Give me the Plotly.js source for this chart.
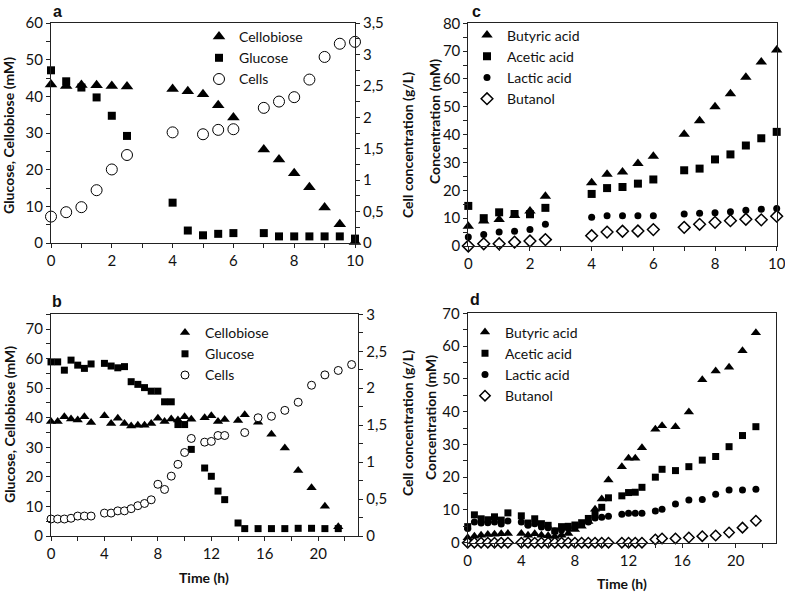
<!DOCTYPE html>
<html><head><meta charset="utf-8">
<script src="https://cdn.plot.ly/plotly-3.0.1.min.js"></script>
<style>html,body{margin:0;padding:0;background:#fff}#chart{width:785px;height:593px}</style>
</head><body><div id="chart"></div>
<script>
// ---------- Panel a ----------
const tA = [0,0.5,1,1.5,2,2.5,4,4.5,5,5.5,6,7,7.5,8,8.5,9,9.5,10];
const cellobioseA = [43.2,42.8,43.1,43.0,42.8,42.7,42.0,41.4,40.6,37.6,34.2,25.5,22.8,19.0,15.2,9.7,5.1,0.3];
const glucoseA = [47.1,44.1,42.4,39.7,34.7,29.2,11.0,3.4,2.1,2.5,2.7,2.7,1.8,1.8,1.8,1.8,1.8,1.2];
const cellsA = [0.42,0.49,0.57,0.84,1.17,1.40,1.76,null,1.73,1.80,1.81,2.15,2.25,2.32,2.60,2.96,3.17,3.20];
// ---------- Panel b ----------
const tB = [0,0.5,1,1.5,2,2.5,3,4,4.5,5,5.5,6,6.5,7,7.5,8,8.5,9,9.5,10,10.5,11.5,12,12.5,13,14,14.5,15.5,16.5,17.5,18.5,19.5,20.5,21.5,22.5];
const cellobioseB = [38.7,38.7,40.3,39.6,39.2,40.3,38.4,40.7,38.1,39.8,38.1,37.2,37.5,37.5,38.1,39.8,38.7,39.6,39.2,40.3,39.5,40.0,40.7,38.7,39.4,39.1,41.0,38.5,34.4,29.8,22.2,16.3,10.1,3.1,null];
const glucoseB = [58.9,58.9,56.1,59.5,57.8,56.7,58.2,58.4,57.5,56.9,57.3,52.2,51.3,50.2,49.0,49.0,45.4,45.4,37.7,37.7,29.3,23.0,20.2,15.2,12.3,4.4,2.5,2.5,2.5,2.5,2.6,2.6,2.5,2.5,null];
const cellsB = [0.23,0.23,0.23,0.24,0.27,0.27,0.27,0.31,0.31,0.34,0.34,0.37,0.41,0.44,0.49,0.70,0.63,0.81,0.97,1.13,1.32,1.27,1.28,1.36,1.36,null,1.40,1.60,1.62,1.70,1.81,2.04,2.18,2.24,2.32];
// ---------- Panel c ----------
const tC = [0,0.5,1,1.5,2,2.5,4,4.5,5,5.5,6,7,7.5,8,8.5,9,9.5,10];
const butyricC = [7.1,9.0,9.5,11.0,12.6,17.9,22.7,25.8,26.6,29.6,32.2,40.1,45.0,50.0,54.7,60.6,66.1,70.4];
const aceticC = [14.4,10.0,12.1,11.5,11.4,13.7,18.7,20.8,21.2,22.4,23.9,27.2,27.8,31.1,32.9,36.1,38.7,41.0];
const lacticC = [3.2,4.1,5.0,5.3,5.9,7.8,10.3,10.9,10.9,10.9,10.9,11.5,11.8,11.9,12.3,12.8,13.2,13.5];
const butanolC = [0,0.8,0.8,1.4,1.8,2.3,3.7,5.0,5.3,5.4,5.9,6.7,7.8,8.5,9.1,9.6,9.4,10.7];
// ---------- Panel d ----------
const tD = [0,0.5,1,1.5,2,2.5,3,4,4.5,5,5.5,6,6.5,7,7.5,8,8.5,9,9.5,10,10.5,11.5,12,12.5,13,14,14.5,15.5,16.5,17.5,18.5,19.5,20.5,21.5];
const butyricD = [1.5,2.0,2.3,2.5,2.6,2.7,2.8,2.8,2.3,2.7,2.3,2.1,1.9,2.3,2.8,4.0,5.0,6.5,10.2,13.3,19.1,23.2,25.8,25.8,29.0,34.6,35.7,35.4,39.9,49.7,52.4,53.5,58.6,64.1];
const aceticD = [4.9,8.5,7.3,7.0,7.9,6.9,9.1,8.2,6.0,7.3,5.8,5.3,3.6,4.9,5.0,5.4,6.1,7.4,8.6,10.8,13.7,14.3,15.3,15.4,16.9,20.0,22.4,22.0,23.2,25.2,26.3,29.3,32.7,35.4];
const lacticD = [4.3,6.3,6.0,6.1,6.3,5.7,6.6,6.3,5.3,5.8,4.8,4.6,3.6,3.9,4.3,4.8,5.6,6.3,7.5,7.8,8.1,8.7,9.0,9.0,9.0,9.7,10.2,11.8,13.0,13.2,14.8,16.1,16.1,16.3];
const butanolD = [0,0,0,0,0,0,0,0,0,0,0,0,0,0,0,0,0,0,0,0,0,0,0,0,0,1.0,1.3,1.3,1.6,2.0,2.2,3.1,4.6,6.7];

const W = 785, H = 593;
const FX = px => px / W;
const FY = py => 1 - py / H;
const FONT = 'Lato, "Open Sans", sans-serif';
const AX = '#222';

function tri(name, x, y, xa, ya, lg, size) {
  return {type:'scatter', mode:'markers', name, x, y, xaxis:xa, yaxis:ya, legend:lg, cliponaxis:false,
    marker:{symbol:'triangle-up', size:size||10, color:'#000'}};
}
function sq(name, x, y, xa, ya, lg, size) {
  return {type:'scatter', mode:'markers', name, x, y, xaxis:xa, yaxis:ya, legend:lg, cliponaxis:false,
    marker:{symbol:'square', size:size||8, color:'#000'}};
}
function circOpen(name, x, y, xa, ya, lg, size) {
  return {type:'scatter', mode:'markers', name, x, y, xaxis:xa, yaxis:ya, legend:lg, cliponaxis:false,
    marker:{symbol:'circle', size:size||10, color:'#fff', line:{color:'#000', width:1}}};
}
function circFill(name, x, y, xa, ya, lg, size) {
  return {type:'scatter', mode:'markers', name, x, y, xaxis:xa, yaxis:ya, legend:lg, cliponaxis:false,
    marker:{symbol:'circle', size:size||7, color:'#000'}};
}
function diaOpen(name, x, y, xa, ya, lg, size) {
  return {type:'scatter', mode:'markers', name, x, y, xaxis:xa, yaxis:ya, legend:lg, cliponaxis:false,
    marker:{symbol:'diamond', size:size||9, color:'#fff', line:{color:'#000', width:1.5}}};
}

const data = [
  tri('Cellobiose', tA, cellobioseA, 'x', 'y', 'legend', 11),
  sq('Glucose', tA, glucoseA, 'x', 'y', 'legend', 8),
  circOpen('Cells', tA, cellsA, 'x', 'y2', 'legend', 11),

  tri('Cellobiose', tB, cellobioseB, 'x2', 'y3', 'legend2', 9),
  sq('Glucose', tB, glucoseB, 'x2', 'y3', 'legend2', 7),
  circOpen('Cells', tB, cellsB, 'x2', 'y4', 'legend2', 8),

  tri('Butyric acid', tC, butyricC, 'x3', 'y5', 'legend3', 10),
  sq('Acetic acid', tC, aceticC, 'x3', 'y5', 'legend3', 8),
  circFill('Lactic acid', tC, lacticC, 'x3', 'y5', 'legend3', 7),
  diaOpen('Butanol', tC, butanolC, 'x3', 'y5', 'legend3', 9),

  tri('Butyric acid', tD, butyricD, 'x4', 'y6', 'legend4', 9),
  sq('Acetic acid', tD, aceticD, 'x4', 'y6', 'legend4', 7),
  circFill('Lactic acid', tD, lacticD, 'x4', 'y6', 'legend4', 7),
  diaOpen('Butanol', tD, butanolD, 'x4', 'y6', 'legend4', 8),
];

function axis(extra) {
  return Object.assign({
    showline:true, linecolor:AX, linewidth:1, showgrid:false, zeroline:false,
    ticks:'outside', ticklen:4, tickcolor:AX, tickwidth:1,
    tickfont:{family:FONT, size:15, color:'#111'},
    ticklabeloverflow:'allow',
    fixedrange:true
  }, extra);
}
function minor(d) { return {dtick:d, ticks:'outside', ticklen:4, tickcolor:AX, tickwidth:1, showgrid:false}; }

function legendAt(xpx, ypx) {
  return {x:FX(xpx), y:FY(ypx), xanchor:'left', yanchor:'top', bgcolor:'rgba(0,0,0,0)',
    font:{family:FONT, size:14, color:'#111'}, borderwidth:0};
}

function ann(text, xpx, ypx, opts) {
  return Object.assign({text, x:FX(xpx), y:FY(ypx), xref:'paper', yref:'paper', showarrow:false,
    xanchor:'center', yanchor:'middle', font:{family:FONT, size:14, color:'#111'}}, opts||{});
}
const boldT = t => '<b>' + t + '</b>';
const letterFont = {family:'"Liberation Sans", Arial, sans-serif', size:16, color:'#111'};

const layout = {
  width:W, height:H, margin:{l:0, r:0, t:0, b:0}, paper_bgcolor:'#fff', plot_bgcolor:'#fff',
  separators:', ', showlegend:true,
  // panel a
  xaxis: axis({domain:[FX(51), FX(355)], anchor:'y', range:[0,10], dtick:2, tick0:0, minor:minor(1), mirror:true}),
  yaxis: axis({domain:[FY(243), FY(23)], anchor:'x', range:[0,60], dtick:10, minor:minor(5)}),
  yaxis2: axis({overlaying:'y', side:'right', anchor:'x', range:[0,3.5], dtick:0.5, minor:minor(0.25)}),
  // panel b
  xaxis2: axis({domain:[FX(51), FX(358.3)], anchor:'y3', range:[0,23], dtick:4, tick0:0, minor:minor(2), mirror:true}),
  yaxis3: axis({domain:[FY(536), FY(314.3)], anchor:'x2', range:[0,75], dtick:10, minor:minor(5)}),
  yaxis4: axis({overlaying:'y3', side:'right', anchor:'x2', range:[0,3], dtick:0.5, minor:minor(0.25)}),
  // panel c
  xaxis3: axis({domain:[FX(468.3), FX(776.7)], anchor:'y5', range:[0,10], dtick:2, tick0:0, minor:minor(1), mirror:true}),
  yaxis5: axis({domain:[FY(246), FY(23.3)], anchor:'x3', range:[0,80], dtick:10, minor:minor(5), mirror:true}),
  // panel d
  xaxis4: axis({domain:[FX(467.7), FX(776)], anchor:'y6', range:[0,23], dtick:4, tick0:0, minor:minor(2), mirror:true}),
  yaxis6: axis({domain:[FY(542.7), FY(313.3)], anchor:'x4', range:[0,70], dtick:10, minor:minor(5), mirror:true}),

  legend: legendAt(199, 21),
  legend2: legendAt(165, 317),
  legend3: legendAt(467, 19.5),
  legend4: legendAt(465, 316.5),

  annotations: [
    ann(boldT('a'), 57, 11, {font:letterFont}),
    ann(boldT('b'), 57, 302, {font:letterFont}),
    ann(boldT('c'), 476, 12, {font:letterFont}),
    ann(boldT('d'), 475, 299, {font:letterFont}),
    ann(boldT('Glucose, Cellobiose (mM)'), 9, 136, {textangle:-90}),
    ann(boldT('Glucose, Cellobiose (mM)'), 9, 425, {textangle:-90}),
    ann(boldT('Cell concentration (g/L)'), 407, 145, {textangle:-90}),
    ann(boldT('Cell concentration (g/L)'), 407, 423, {textangle:-90}),
    ann(boldT('Concentration (mM)'), 435, 122, {textangle:-90}),
    ann(boldT('Concentration (mM)'), 430, 418, {textangle:-90}),
    ann(boldT('Time (h)'), 204, 577),
    ann(boldT('Time (h)'), 622, 583),
  ]
};

Plotly.newPlot('chart', data, layout, {staticPlot:true, displayModeBar:false});
</script>
</body></html>
